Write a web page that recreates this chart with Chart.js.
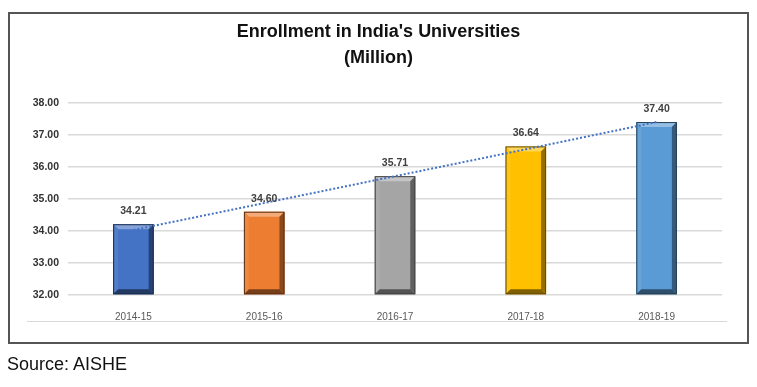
<!DOCTYPE html>
<html>
<head>
<meta charset="utf-8">
<script src="https://cdn.jsdelivr.net/npm/chart.js@4"></script>
<style>
  html, body { margin: 0; padding: 0; background: #fff; }
  #wrap { position: relative; width: 757px; height: 387px; overflow: hidden; font-family: "Liberation Sans", Arial, sans-serif; }
  #box { position: absolute; left: 8px; top: 12px; width: 741px; height: 332px; box-sizing: border-box; border: 2px solid #555; }
  #rule { position: absolute; left: 27px; top: 321px; width: 700px; height: 1px; background: #d9d9d9; }
  #source { position: absolute; left: 7px; top: 354px; font-size: 18px; color: #111; }
  canvas { position: absolute; left: 0; top: 0; }
</style>
</head>
<body>
<div id="wrap">
  <div id="box"></div>
  <div id="rule"></div>
  <canvas id="c" width="757" height="387"></canvas>
  <div id="source">Source: AISHE</div>
</div>
<script>
const categories = ['2014-15', '2015-16', '2016-17', '2017-18', '2018-19'];
const enrollment = [34.21, 34.60, 35.71, 36.64, 37.40];
const trendline = [34.03, 34.87, 35.71, 36.55, 37.40];
const titleLines = ["Enrollment in India's Universities", '(Million)'];
const barColors = ['#4472C4', '#ED7D31', '#A5A5A5', '#FFC000', '#5B9BD5'];
const axisMin = 32;
const axisMax = 38;

function shade(hex, f) {
  const n = parseInt(hex.slice(1), 16);
  let r = (n >> 16) & 255, g = (n >> 8) & 255, b = n & 255;
  if (f >= 0) { r += (255 - r) * f; g += (255 - g) * f; b += (255 - b) * f; }
  else { r *= (1 + f); g *= (1 + f); b *= (1 + f); }
  return 'rgb(' + Math.round(r) + ',' + Math.round(g) + ',' + Math.round(b) + ')';
}

const bevelPlugin = {
  id: 'bevel',
  afterDatasetDraw(chart, args) {
    if (args.index !== 0) return;
    const ctx = chart.ctx;
    args.meta.data.forEach((el, i) => {
      const p = el.getProps(['x', 'y', 'base', 'width'], true);
      const l = p.x - p.width / 2, r = p.x + p.width / 2, t = p.y;
      const bt = Math.min(p.base, chart.chartArea.bottom), b = 5;
      const c = barColors[i];
      const poly = (pts, col) => {
        ctx.beginPath();
        ctx.moveTo(pts[0][0], pts[0][1]);
        for (let k = 1; k < pts.length; k++) ctx.lineTo(pts[k][0], pts[k][1]);
        ctx.closePath();
        ctx.fillStyle = col;
        ctx.fill();
      };
      ctx.save();
      poly([[l, t], [r, t], [r - b, t + b], [l + b, t + b]], shade(c, 0.35));
      poly([[l, t], [l + b, t + b], [l + b, bt - b], [l, bt]], shade(c, 0.08));
      poly([[r, t], [r, bt], [r - b, bt - b], [r - b, t + b]], shade(c, -0.42));
      poly([[l, bt], [r, bt], [r - b, bt - b], [l + b, bt - b]], shade(c, -0.5));
      ctx.strokeStyle = shade(c, -0.6);
      ctx.lineWidth = 1;
      ctx.strokeRect(l + 0.5, t + 0.5, p.width - 1, bt - t - 1);
      ctx.restore();
    });
  }
};

const labelPlugin = {
  id: 'valueLabels',
  afterDatasetsDraw(chart) {
    const ctx = chart.ctx;
    const meta = chart.getDatasetMeta(0);
    ctx.save();
    ctx.font = 'bold 10.5px "Liberation Sans", Arial, sans-serif';
    ctx.fillStyle = '#404040';
    ctx.textAlign = 'center';
    ctx.textBaseline = 'middle';
    meta.data.forEach((el, i) => {
      ctx.fillText(enrollment[i].toFixed(2), el.x, el.y - 13);
    });
    ctx.restore();
  }
};

new Chart(document.getElementById('c'), {
  data: {
    labels: categories,
    datasets: [
      {
        type: 'bar',
        data: enrollment,
        base: axisMin,
        backgroundColor: barColors,
        borderWidth: 0,
        barPercentage: 0.31,
        categoryPercentage: 1,
        order: 1
      },
      {
        type: 'line',
        data: trendline,
        borderColor: '#4472C4',
        borderWidth: 2,
        borderDash: [2, 2],
        pointRadius: 0,
        fill: false,
        order: 0
      }
    ]
  },
  options: {
    responsive: false,
    animation: false,
    layout: { padding: { left: 0, right: 0, top: 0, bottom: 0 } },
    plugins: {
      legend: { display: false },
      tooltip: { enabled: false },
      title: {
        display: true,
        text: titleLines,
        color: '#111',
        font: { family: '"Liberation Sans", Arial, sans-serif', size: 18, weight: 'bold', lineHeight: 1.44 },
        padding: { top: 19, bottom: 32 }
      }
    },
    scales: {
      x: {
        grid: { display: false },
        border: { display: false },
        ticks: { color: '#595959', font: { family: '"Liberation Sans", Arial, sans-serif', size: 10 }, padding: 8 },
        afterFit(s) { s.height = 92; }
      },
      y: {
        min: axisMin,
        max: axisMax,
        grid: { color: '#d9d9d9', lineWidth: 1.5, drawTicks: false },
        border: { display: false },
        ticks: {
          stepSize: 1,
          padding: 9,
          color: '#333',
          font: { family: '"Liberation Sans", Arial, sans-serif', size: 10.5, weight: 'bold' },
          callback: v => Number(v).toFixed(2)
        },
        afterFit(s) { s.width = 68; }
      },
      yRightGap: {
        position: 'right',
        display: true,
        grid: { display: false },
        border: { display: false },
        ticks: { display: false },
        afterFit(s) { s.width = 35; }
      }
    }
  },
  plugins: [bevelPlugin, labelPlugin]
});
</script>
</body>
</html>
